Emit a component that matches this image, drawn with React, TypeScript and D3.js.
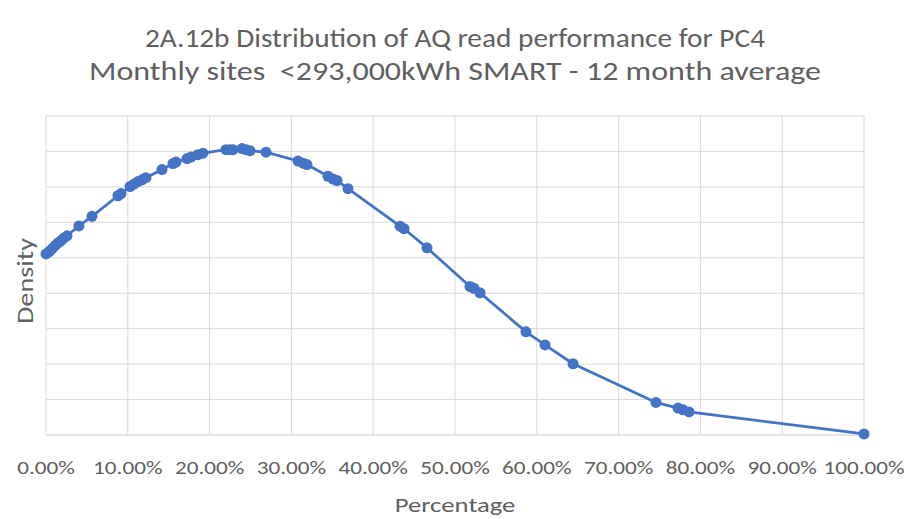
import React from "react";
import * as d3 from "d3";

const xValues = [0.0, 0.37, 0.73, 1.1, 1.47, 1.83, 2.2, 2.57, 4.03, 5.62, 8.8, 9.17, 10.27, 10.76, 11.25, 11.74, 12.22, 14.18, 15.53, 15.89, 17.24, 17.73, 18.58, 19.19, 22.0, 22.5, 22.86, 23.96, 24.45, 24.94, 26.9, 30.81, 31.42, 31.9, 34.47, 35.09, 35.57, 36.92, 43.28, 43.77, 46.58, 51.83, 52.32, 53.06, 58.68, 61.0, 64.43, 74.57, 77.26, 77.87, 78.61, 100.0];
const densityValues = [5.11, 5.17, 5.25, 5.34, 5.42, 5.48, 5.56, 5.62, 5.9, 6.17, 6.75, 6.81, 7.01, 7.08, 7.15, 7.2, 7.26, 7.49, 7.66, 7.7, 7.8, 7.84, 7.91, 7.95, 8.05, 8.05, 8.05, 8.08, 8.05, 8.02, 7.98, 7.73, 7.67, 7.63, 7.3, 7.22, 7.18, 6.95, 5.89, 5.82, 5.28, 4.19, 4.14, 4.01, 2.91, 2.54, 2.01, 0.92, 0.76, 0.71, 0.65, 0.03];
const xTicks = [0, 10, 20, 30, 40, 50, 60, 70, 80, 90, 100];
const yGrid = [0, 1, 2, 3, 4, 5, 6, 7, 8, 9];
const titleLines = ["2A.12b Distribution of AQ read performance for PC4", "Monthly sites  <293,000kWh SMART - 12 month average"];

export default function App() {
  const W = 910, H = 519;
  const x = d3.scaleLinear().domain([0, 100]).range([46, 864]);
  const y = d3.scaleLinear().domain([0, 9]).range([435, 116]);
  const pts = xValues.map((v, i) => [v, densityValues[i]] as [number, number]);
  const line = d3.line<[number, number]>().x(d => x(d[0])).y(d => y(d[1]));
  const font = "Carlito, Calibri, 'Open Sans', sans-serif";
  const txt = "#5f5f5f";
  return (
    <svg width={W} height={H} style={{ position: "absolute", left: 0, top: 0, background: "#fff" }}>
      <rect width={W} height={H} fill="#fff" />
      {titleLines.map((t, i) => (
        <text key={i} x={455} y={47 + i * 33} textAnchor="middle" fontFamily={font} fontSize={27} fill={txt}
          textLength={i === 0 ? 620 : 732} lengthAdjust="spacingAndGlyphs" style={{ whiteSpace: "pre" }}>{t}</text>
      ))}
      {yGrid.map(g => (
        <line key={"h" + g} x1={x(0)} x2={x(100)} y1={y(g)} y2={y(g)} stroke={g === 0 ? "#c8c8c8" : "#d9d9d9"} strokeWidth={1} />
      ))}
      {xTicks.map(t => (
        <line key={"v" + t} x1={x(t)} x2={x(t)} y1={y(0)} y2={y(9)} stroke="#d9d9d9" strokeWidth={1} />
      ))}
      <path d={line(pts) || ""} fill="none" stroke="#4472c4" strokeWidth={2.75} strokeLinejoin="round" />
      {pts.map((p, i) => (
        <circle key={i} cx={x(p[0])} cy={y(p[1])} r={5.5} fill="#4472c4" />
      ))}
      {xTicks.map(t => (
        <text key={"l" + t} transform={`translate(${x(t)},474) scale(1.22,1)`} textAnchor="middle" fontFamily={font} fontSize={19} fill={txt}>
          {t.toFixed(2) + "%"}
        </text>
      ))}
      <text transform="translate(455,512) scale(1.27,1)" textAnchor="middle" fontFamily={font} fontSize={21} fill={txt}>Percentage</text>
      <text transform="translate(33,281) rotate(-90)" textAnchor="middle" fontFamily={font} fontSize={22} fill={txt}
        textLength={86} lengthAdjust="spacingAndGlyphs">Density</text>
    </svg>
  );
}
